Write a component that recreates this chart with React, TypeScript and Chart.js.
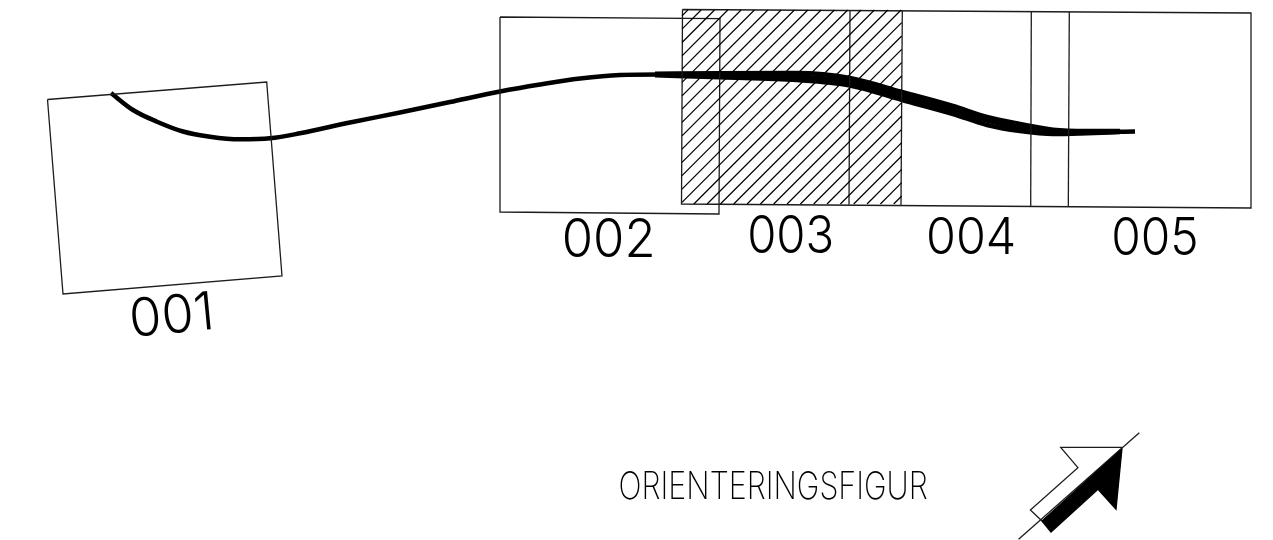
import React, { useEffect, useRef } from "react";
import { Chart, registerables } from "chart.js";

Chart.register(...registerables);

const WIDTH = 1273;
const HEIGHT = 540;
const INK = "#1c1c1c";

// Sheet frames, as closed outlines in drawing units
const sheet001X = [47.5, 266.7, 282, 63, 47.5];
const sheet001Y = [99.5, 82, 276, 294, 99.5];
const sheet002X = [500, 720, 719, 500, 500];
const sheet002Y = [17, 18.7, 214, 212, 17];
const sheetBandX = [682.5, 1251, 1251, 681.5, 682.5];
const sheetBandY = [9.5, 13, 208, 204, 9.5];

// Internal dividers of the long band
const dividerX = [
  [850, 849],
  [902.3, 901],
  [1031.3, 1030.7],
  [1069.3, 1068.3],
];
const dividerY = [
  [10.4, 204.8],
  [10.8, 205.2],
  [11.9, 206.8],
  [12.1, 207],
];

// Hatch lines: x + y value of every 45 degree stroke
const hatchOffsets = [
  697.8, 711.1, 724.5, 737.8, 751.1, 764.4, 777.8, 791.1, 804.4, 817.8, 831.1,
  844.4, 857.7, 871.1, 884.4, 897.8, 911.1, 924.4, 937.7, 951.1, 964.4, 977.7,
  991.1, 1004.4, 1017.7, 1031, 1044.4, 1057.7, 1071, 1084.4, 1097.7,
];
const hatchLeft = 682;
const hatchRight = 901.7;
const hatchTop = 10;
const hatchBottom = 204;

// Road centre line
const roadX = [111, 133, 157, 183, 210, 240, 270, 300, 350, 400, 450, 500, 540, 580, 620, 660, 720, 797, 850, 902, 953, 987, 1020, 1053, 1087, 1135];
const roadY = [93, 110, 121.7, 131.5, 136.7, 139.3, 138.3, 133.3, 122.5, 112.5, 102, 91.5, 84.5, 78.5, 75, 74.5, 75.2, 76.5, 81.7, 96, 110, 120.5, 127.5, 131.7, 132, 131.5];

// Upper and lower widening strokes of the road
const roadEdgeX = [655, 720, 797, 850, 902, 953, 987, 1020, 1053, 1087, 1120];
const roadUpperY = [73.8, 73.2, 73, 78, 92, 106, 117, 124, 129.7, 131, 131];
const roadLowerY = [75.2, 77.3, 80, 85.5, 100, 114, 125, 131, 134, 133.2, 132];

// Orientation arrow
const needleX = [1018.6, 1139.3];
const needleY = [539.3, 432.7];
const arrowOutlineX = [1122, 1060.7, 1077.9, 1030.4, 1042];
const arrowOutlineY = [447.3, 447.3, 467.7, 510, 521];
const arrowFillX = [1122, 1116, 1098, 1051, 1042, 1122];
const arrowFillY = [448.3, 509.3, 489.3, 532, 521, 448.3];

// Text
const labelTexts = ["001", "002", "003", "004", "005", "ORIENTERINGSFIGUR"];
const labelCenterX = [172.5, 608.3, 791, 971.4, 1155, 773.7];
const labelBaseY = [333, 256.5, 252.7, 254, 255, 498.5];
const labelWidths = [77, 87, 82, 85, 82, 306.5];
const labelHeights = [39, 39.5, 39, 37.5, 38.5, 28];
const labelWeights = [300, 300, 300, 300, 300, 200];
const labelAngles = [-5.5, 0, 0, 0, 0, 0];

const pts = (xs: number[], ys: number[]) => xs.map((x, i) => ({ x, y: ys[i] }));

const thin = (xs: number[], ys: number[]) => ({
  type: "scatter" as const,
  data: pts(xs, ys),
  showLine: true,
  borderColor: INK,
  borderWidth: 1.3,
  pointRadius: 0,
  fill: false,
  tension: 0,
});

const hatch = (c: number) => {
  const startX = Math.max(hatchLeft, c - hatchBottom);
  const endX = Math.min(hatchRight, c - hatchTop);
  return {
    ...thin([startX, endX], [c - startX, c - endX]),
    borderWidth: 1.2,
    borderColor: "#000",
  };
};

const road = (xs: number[], ys: number[], width: number) => ({
  ...thin(xs, ys),
  borderColor: "#000",
  borderWidth: width,
  cubicInterpolationMode: "monotone" as const,
  borderCapStyle: "butt" as const,
});

const drawingPlugin = {
  id: "sheetDrawing",
  afterDatasetsDraw(chart: any) {
    const { ctx, scales, data } = chart;

    // Solid arrow head: filled through the points of its own dataset
    const index = data.datasets.findIndex((d: any) => d.label === "arrowHead");
    const points = chart.getDatasetMeta(index).data;
    ctx.save();
    ctx.beginPath();
    points.forEach((p: any, i: number) => (i ? ctx.lineTo(p.x, p.y) : ctx.moveTo(p.x, p.y)));
    ctx.closePath();
    ctx.fillStyle = "#000";
    ctx.fill();
    ctx.restore();

    labelTexts.forEach((text, i) => {
      ctx.save();
      ctx.translate(scales.x.getPixelForValue(labelCenterX[i]), scales.y.getPixelForValue(labelBaseY[i]));
      ctx.rotate((labelAngles[i] * Math.PI) / 180);
      ctx.font = `${labelWeights[i]} 50px Inter, Lato, "Noto Sans", sans-serif`;
      ctx.textAlign = "left";
      ctx.textBaseline = "alphabetic";
      ctx.fillStyle = "#000";
      const m = ctx.measureText(text);
      const inkWidth = m.actualBoundingBoxLeft + m.actualBoundingBoxRight;
      const inkHeight = m.actualBoundingBoxAscent;
      const sx = labelWidths[i] / inkWidth;
      ctx.scale(sx, labelHeights[i] / inkHeight);
      ctx.fillText(text, -inkWidth / 2 + m.actualBoundingBoxLeft, 0);
      ctx.restore();
    });
  },
};

export default function App() {
  const ref = useRef<HTMLCanvasElement>(null);
  useEffect(() => {
    if (!ref.current) return;
    const chart = new Chart(ref.current, {
      type: "scatter",
      data: {
        datasets: [
          ...hatchOffsets.map(hatch),
          thin(sheet001X, sheet001Y),
          thin(sheet002X, sheet002Y),
          thin(sheetBandX, sheetBandY),
          ...dividerX.map((xs, i) => thin(xs, dividerY[i])),
          road(roadX, roadY, 4.5),
          road(roadEdgeX, roadUpperY, 4.5),
          road(roadEdgeX, roadLowerY, 4.5),
          thin(needleX, needleY),
          thin(arrowOutlineX, arrowOutlineY),
          { ...thin(arrowFillX, arrowFillY), label: "arrowHead", borderColor: "#000" },
        ] as any,
      },
      options: {
        animation: false,
        responsive: false,
        devicePixelRatio: 1,
        layout: { padding: 0 },
        plugins: { legend: { display: false }, tooltip: { enabled: false } },
        scales: {
          x: { type: "linear", display: false, min: 0, max: WIDTH },
          y: { type: "linear", display: false, min: 0, max: HEIGHT, reverse: true },
        },
      } as any,
      plugins: [drawingPlugin],
    });
    return () => chart.destroy();
  }, []);
  return (
    <div style={{ position: "fixed", left: 0, top: 0, width: WIDTH, height: HEIGHT, background: "#fff" }}>
      <canvas ref={ref} width={WIDTH} height={HEIGHT} style={{ display: "block" }} />
    </div>
  );
}
